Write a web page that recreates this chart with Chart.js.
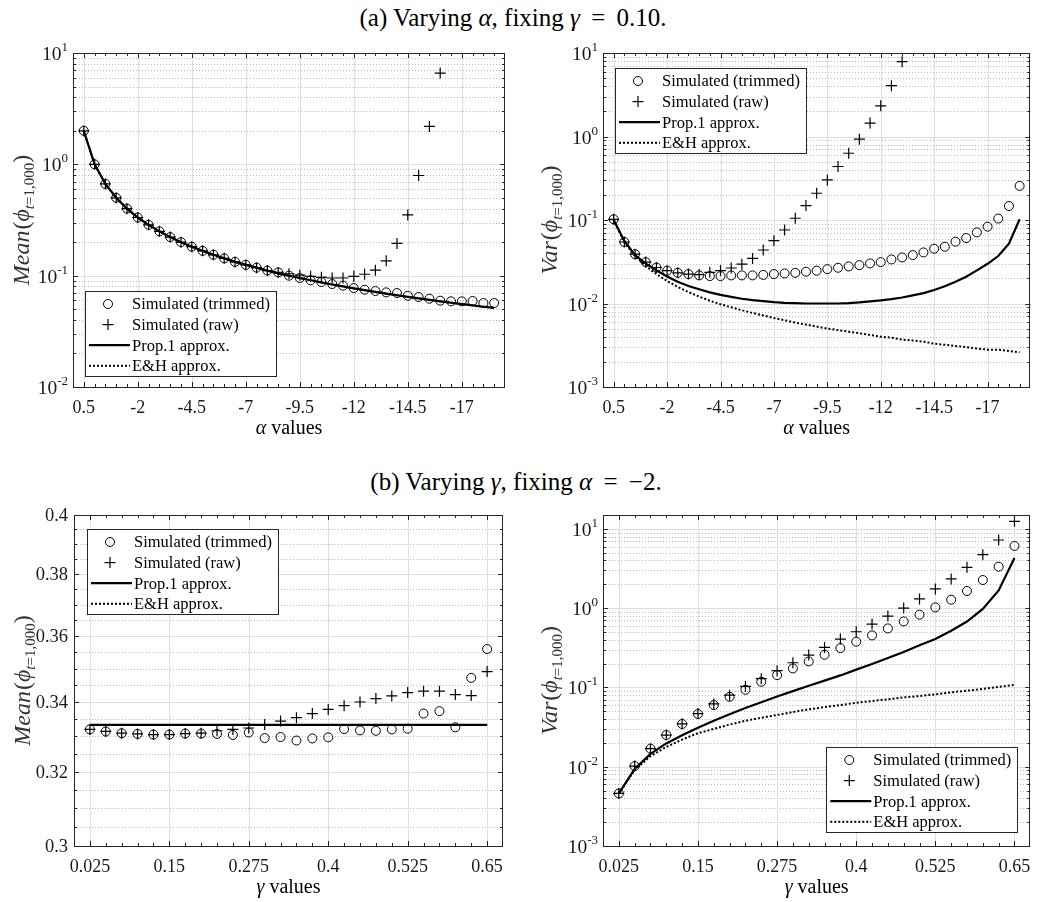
<!DOCTYPE html>
<html>
<head>
<meta charset="utf-8">
<script src="https://cdn.jsdelivr.net/npm/chart.js@4.4.1/dist/chart.umd.min.js"></script>
<style>
  body { margin: 0; background: #fff; width: 1037px; height: 902px; position: relative; overflow: hidden;
         font-family: "Liberation Serif", "Times New Roman", serif; color: #000; }
  .caption { position: absolute; text-align: center; font-size: 25px; line-height: 28px; white-space: nowrap; }
  canvas { position: absolute; }
</style>
</head>
<body>
<div class="caption" style="left:0; width:1026px; top:4px">(a) Varying <i>α</i>, fixing <i>γ</i>&thinsp; = &thinsp;0.10.</div>
<div class="caption" style="left:0; width:1032px; top:468px">(b) Varying <i>γ</i>, fixing <i>α</i>&thinsp; = &thinsp;−2.</div>
<canvas id="meanAlpha"></canvas>
<canvas id="varAlpha"></canvas>
<canvas id="meanGamma"></canvas>
<canvas id="varGamma"></canvas>
<script>
// ---- data ----
const seriesLabels = ['Simulated (trimmed)', 'Simulated (raw)', 'Prop.1 approx.', 'E&H approx.'];

const alphaValues = [0.5, 0, -0.5, -1, -1.5, -2, -2.5, -3, -3.5, -4, -4.5, -5, -5.5, -6, -6.5, -7, -7.5, -8,
  -8.5, -9, -9.5, -10, -10.5, -11, -11.5, -12, -12.5, -13, -13.5, -14, -14.5, -15, -15.5, -16, -16.5, -17,
  -17.5, -18, -18.5];
const alphaTicks = [0.5, -2, -4.5, -7, -9.5, -12, -14.5, -17];

const gammaValues = [0.025, 0.05, 0.075, 0.1, 0.125, 0.15, 0.175, 0.2, 0.225, 0.25, 0.275, 0.3, 0.325, 0.35,
  0.375, 0.4, 0.425, 0.45, 0.475, 0.5, 0.525, 0.55, 0.575, 0.6, 0.625, 0.65];
const gammaTicks = [0.025, 0.15, 0.275, 0.4, 0.525, 0.65];

// mean, varying alpha
const meanAlphaTrimmed = [2.00, 1.00, 0.667, 0.500, 0.400, 0.333, 0.286, 0.250, 0.222, 0.200, 0.182, 0.167,
  0.154, 0.143, 0.133, 0.125, 0.118, 0.111, 0.107, 0.100, 0.0953, 0.0908, 0.0877, 0.0841, 0.0813, 0.0774,
  0.0748, 0.0728, 0.0708, 0.0698, 0.0660, 0.0643, 0.0621, 0.0596, 0.0588, 0.0588, 0.0592, 0.0568, 0.0568];
const meanAlphaRaw = [2.00, 1.00, 0.667, 0.500, 0.400, 0.333, 0.286, 0.250, 0.222, 0.200, 0.182, 0.167,
  0.154, 0.143, 0.133, 0.125, 0.118, 0.111, 0.107, 0.104, 0.101, 0.0986, 0.0966, 0.0953, 0.0953, 0.0986,
  0.103, 0.112, 0.136, 0.195, 0.351, 0.794, 2.19, 6.60, null, null, null, null, null];
const meanAlphaProp1 = [2.000, 1.000, 0.667, 0.500, 0.400, 0.333, 0.286, 0.250, 0.222, 0.200, 0.182, 0.167,
  0.154, 0.143, 0.133, 0.125, 0.118, 0.111, 0.105, 0.100, 0.0952, 0.0909, 0.0870, 0.0833, 0.0800, 0.0769,
  0.0741, 0.0714, 0.0690, 0.0667, 0.0645, 0.0625, 0.0606, 0.0588, 0.0571, 0.0556, 0.0541, 0.0526, 0.0513];
const meanAlphaEH = [2.000, 1.000, 0.667, 0.500, 0.400, 0.333, 0.286, 0.250, 0.222, 0.200, 0.182, 0.167,
  0.154, 0.143, 0.133, 0.125, 0.118, 0.111, 0.105, 0.100, 0.0952, 0.0909, 0.0870, 0.0833, 0.0800, 0.0769,
  0.0741, 0.0714, 0.0690, 0.0667, 0.0645, 0.0625, 0.0606, 0.0588, 0.0571, 0.0556, 0.0541, 0.0526, 0.0513];

// variance, varying alpha
const varAlphaTrimmed = [0.102, 0.0545, 0.0390, 0.0313, 0.0270, 0.0247, 0.0233, 0.0225, 0.0217, 0.0213,
  0.0213, 0.0217, 0.0217, 0.0217, 0.0220, 0.0225, 0.0229, 0.0233, 0.0240, 0.0247, 0.0258, 0.0268, 0.0278,
  0.0288, 0.0302, 0.0313, 0.0337, 0.0356, 0.0380, 0.0409, 0.0453, 0.0479, 0.0550, 0.0608, 0.0711, 0.0832,
  0.104, 0.147, 0.256];
const varAlphaRaw = [0.102, 0.0545, 0.0390, 0.0313, 0.0270, 0.0247, 0.0233, 0.0225, 0.0222, 0.0236, 0.0247,
  0.0266, 0.0296, 0.0347, 0.0437, 0.0565, 0.0759, 0.105, 0.149, 0.209, 0.302, 0.437, 0.630, 0.930, 1.45,
  2.33, 4.06, 7.87, null, null, null, null, null, null, null, null, null, null, null];
const varAlphaProp1 = [0.100, 0.0560, 0.0380, 0.0300, 0.0250, 0.0210, 0.0182, 0.0162, 0.0148, 0.0136,
  0.0127, 0.0120, 0.0114, 0.0110, 0.0107, 0.0104, 0.0102, 0.0101, 0.0100, 0.0100, 0.0100, 0.0100, 0.0101,
  0.0103, 0.0106, 0.0109, 0.0113, 0.0118, 0.0125, 0.0133, 0.0145, 0.0161, 0.0182, 0.0209, 0.0249, 0.0299,
  0.0370, 0.0520, 0.102];
const varAlphaEH = [0.100, 0.0540, 0.0370, 0.0280, 0.0225, 0.0186, 0.0158, 0.0137, 0.0121, 0.0108, 0.0098,
  0.0090, 0.0083, 0.0077, 0.0072, 0.0067, 0.0063, 0.0059, 0.0056, 0.0053, 0.0050, 0.0048, 0.0046, 0.0044,
  0.0042, 0.0040, 0.0039, 0.0037, 0.0036, 0.0035, 0.0033, 0.0032, 0.0031, 0.0030, 0.0029, 0.0028, 0.0028,
  0.0027, 0.0026];

// mean, varying gamma
const meanGammaTrimmed = [0.3320, 0.3314, 0.3309, 0.3307, 0.3305, 0.3305, 0.3308, 0.3308, 0.3307, 0.3304,
  0.3311, 0.3295, 0.3298, 0.3288, 0.3294, 0.3297, 0.3321, 0.3317, 0.3316, 0.3320, 0.3322, 0.3366, 0.3373,
  0.3326, 0.3472, 0.3560];
const meanGammaRaw = [0.3320, 0.3314, 0.3309, 0.3307, 0.3305, 0.3305, 0.3308, 0.3309, 0.3316, 0.3320,
  0.3324, 0.3334, 0.3344, 0.3354, 0.3366, 0.3378, 0.3389, 0.3400, 0.3410, 0.3418, 0.3428, 0.3432, 0.3432,
  0.3422, 0.3419, 0.3491];
const meanGammaProp1 = [0.3333, 0.3333, 0.3333, 0.3333, 0.3333, 0.3333, 0.3333, 0.3333, 0.3333, 0.3333,
  0.3333, 0.3333, 0.3333, 0.3333, 0.3333, 0.3333, 0.3333, 0.3333, 0.3333, 0.3333, 0.3333, 0.3333, 0.3333,
  0.3333, 0.3333, 0.3333];
const meanGammaEH = [0.3333, 0.3333, 0.3333, 0.3333, 0.3333, 0.3333, 0.3333, 0.3333, 0.3333, 0.3333,
  0.3333, 0.3333, 0.3333, 0.3333, 0.3333, 0.3333, 0.3333, 0.3333, 0.3333, 0.3333, 0.3333, 0.3333, 0.3333,
  0.3333, 0.3333, 0.3333];
const meanGammaTicks = [0.3, 0.32, 0.34, 0.36, 0.38, 0.4];

// variance, varying gamma
const varGammaTrimmed = [0.0046, 0.0102, 0.0169, 0.0251, 0.0346, 0.0463, 0.0600, 0.0762, 0.0935, 0.118,
  0.143, 0.174, 0.213, 0.259, 0.314, 0.378, 0.454, 0.556, 0.682, 0.829, 1.025, 1.28, 1.65, 2.27, 3.34, 6.10];
const varGammaRaw = [0.0046, 0.0102, 0.0169, 0.0251, 0.0348, 0.0468, 0.0620, 0.0800, 0.103, 0.129, 0.163,
  0.205, 0.256, 0.320, 0.408, 0.505, 0.631, 0.797, 1.005, 1.31, 1.75, 2.34, 3.28, 4.74, 7.26, 12.5];
const varGammaProp1 = [0.0046, 0.0094, 0.0145, 0.0197, 0.0250, 0.0310, 0.0380, 0.0460, 0.0550, 0.0650,
  0.0770, 0.0900, 0.105, 0.122, 0.142, 0.168, 0.198, 0.235, 0.280, 0.340, 0.410, 0.520, 0.680, 0.980, 1.68,
  4.30];
const varGammaEH = [0.0046, 0.0091, 0.0136, 0.0178, 0.0220, 0.0265, 0.0300, 0.0340, 0.0380, 0.0415, 0.0450,
  0.0490, 0.0530, 0.0565, 0.0600, 0.0640, 0.0675, 0.0710, 0.0750, 0.0780, 0.0820, 0.0870, 0.0910, 0.0960,
  0.102, 0.108];

// ---- look ----
const serif = '"Liberation Serif", "Times New Roman", serif';
const ink = '#262626';

const seriesStyles = [
  { showLine: false, pointStyle: 'circle', pointRadius: 4.5, pointBorderWidth: 1,
    pointBorderColor: '#000', pointBackgroundColor: 'rgba(0,0,0,0)', borderColor: '#000', order: 3 },
  { showLine: false, pointStyle: 'cross', pointRadius: 5.5, pointBorderWidth: 1.2,
    pointBorderColor: '#000', pointBackgroundColor: 'rgba(0,0,0,0)', borderColor: '#000', order: 2 },
  { pointRadius: 0, borderWidth: 2.2, borderColor: '#000', tension: 0, order: 0 },
  { pointRadius: 0, borderWidth: 2, borderColor: '#000', borderDash: [2, 2], tension: 0, order: 1 }
];

// canvas rectangle and plot box (left, top, right, bottom) of each panel, in page pixels
const panelLayout = {
  meanAlpha: { left: 0, top: 40, width: 518, height: 412, area: [73, 53, 505, 387] },
  varAlpha: { left: 518, top: 40, width: 519, height: 412, area: [603, 53, 1034, 387] },
  meanGamma: { left: 0, top: 500, width: 518, height: 402, area: [74, 515, 503, 846] },
  varGamma: { left: 518, top: 500, width: 519, height: 402, area: [603, 515, 1033, 846] }
};

function logMinor(min, max) {
  const out = [];
  for (let e = Math.floor(Math.log10(min)); e <= Math.ceil(Math.log10(max)); e++) {
    for (let m = 2; m <= 9; m++) {
      const v = m * Math.pow(10, e);
      if (v > min && v < max) out.push(v);
    }
  }
  return out;
}

const meanGammaMinor = [];
for (let i = 1; i < 20; i++) if (i % 4) meanGammaMinor.push(0.3 + 0.005 * i);

const panelSettings = {
  meanAlpha: { xMinor: alphaValues, yMinor: logMinor(0.01, 10), yFormat: 'pow', xName: 'α', yName: 'Mean',
    titleOffset: 44, legend: { corner: 'bl', dx: 12, dy: 11 } },
  varAlpha: { xMinor: alphaValues, yMinor: logMinor(0.001, 10), yFormat: 'pow', xName: 'α', yName: 'Var',
    titleOffset: 46.5, legend: { corner: 'tl', dx: 12, dy: 15 } },
  meanGamma: { xMinor: gammaValues, yMinor: meanGammaMinor, yFormat: 'plain', xName: 'γ', yName: 'Mean',
    titleOffset: 44, legend: { corner: 'tl', dx: 13, dy: 14 } },
  varGamma: { xMinor: gammaValues, yMinor: logMinor(0.001, 15), yFormat: 'pow', xName: 'γ', yName: 'Var',
    titleOffset: 46.5, legend: { corner: 'br', dx: 13, dy: 14 } }
};

const snap = v => Math.round(v) + 0.5;
function hline(ctx, x1, x2, y) { ctx.beginPath(); ctx.moveTo(x1, y); ctx.lineTo(x2, y); ctx.stroke(); }
function vline(ctx, x, y1, y2) { ctx.beginPath(); ctx.moveTo(x, y1); ctx.lineTo(x, y2); ctx.stroke(); }

// draws runs of differently styled text on one baseline
function textRuns(ctx, runs, x, y, align) {
  let total = 0;
  runs.forEach(r => {
    ctx.font = (r.italic ? 'italic ' : '') + r.size + 'px ' + serif;
    r.w = ctx.measureText(r.text).width + (r.gap || 0);
    total += r.w;
  });
  let cx = align === 'right' ? x - total : align === 'center' ? x - total / 2 : x;
  runs.forEach(r => {
    ctx.font = (r.italic ? 'italic ' : '') + r.size + 'px ' + serif;
    ctx.fillText(r.text, cx, y + (r.dy || 0));
    cx += r.w;
  });
}

function drawLegend(chart, cfg) {
  const { ctx, chartArea: a } = chart;
  const w = 191, h = 85, rowH = 20.6;
  const left = cfg.corner === 'br' ? a.right - cfg.dx - w : a.left + cfg.dx;
  const top = cfg.corner === 'tl' ? a.top + cfg.dy : a.bottom - cfg.dy - h;
  ctx.save();
  ctx.fillStyle = '#fff';
  ctx.fillRect(left, top, w, h);
  ctx.strokeStyle = ink;
  ctx.lineWidth = 1;
  ctx.strokeRect(Math.round(left) + 0.5, Math.round(top) + 0.5, w, h);
  ctx.fillStyle = '#000';
  ctx.strokeStyle = '#000';
  ctx.textAlign = 'left';
  ctx.textBaseline = 'middle';
  ctx.font = '16.5px ' + serif;
  chart.data.datasets.forEach((ds, i) => {
    const cy = top + 13 + i * rowH;
    const mx = left + 23;
    ctx.setLineDash([]);
    if (ds.pointStyle === 'circle') {
      ctx.lineWidth = 1;
      ctx.beginPath(); ctx.arc(mx, cy, 4.5, 0, Math.PI * 2); ctx.stroke();
    } else if (ds.pointStyle === 'cross') {
      ctx.lineWidth = 1.2;
      hline(ctx, mx - 5.5, mx + 5.5, cy); vline(ctx, mx, cy - 5.5, cy + 5.5);
    } else {
      ctx.lineWidth = ds.borderWidth;
      ctx.setLineDash(ds.borderDash || []);
      hline(ctx, left + 4, left + 45, cy);
    }
    ctx.setLineDash([]);
    ctx.fillText(ds.label, left + 47, cy + 1);
  });
  ctx.restore();
}

// grid, boxed axes with inward ticks, tick labels, axis titles and legend
const matlabAxes = {
  id: 'matlabAxes',
  beforeDatasetsDraw(chart) {
    const s = panelSettings[chart.canvas.id];
    const { ctx, chartArea: a, scales: { x, y } } = chart;
    ctx.save();
    ctx.beginPath();
    ctx.rect(a.left, a.top, a.right - a.left, a.bottom - a.top);
    ctx.clip();
    ctx.lineWidth = 1;
    ctx.strokeStyle = 'rgba(38,38,38,0.32)';
    ctx.setLineDash([1, 2]);
    s.yMinor.forEach(v => hline(ctx, a.left, a.right, snap(y.getPixelForValue(v))));
    ctx.setLineDash([]);
    ctx.strokeStyle = '#dedede';
    x.ticks.forEach(t => vline(ctx, snap(x.getPixelForValue(t.value)), a.top, a.bottom));
    y.ticks.forEach(t => hline(ctx, a.left, a.right, snap(y.getPixelForValue(t.value))));
    ctx.restore();
  },
  afterDatasetsDraw(chart) {
    const s = panelSettings[chart.canvas.id];
    const { ctx, chartArea: a, scales: { x, y } } = chart;
    ctx.save();
    ctx.strokeStyle = ink;
    ctx.lineWidth = 1;
    s.xMinor.forEach(v => {
      const px = snap(x.getPixelForValue(v));
      vline(ctx, px, a.bottom, a.bottom - 3); vline(ctx, px, a.top, a.top + 3);
    });
    x.ticks.forEach(t => {
      const px = snap(x.getPixelForValue(t.value));
      vline(ctx, px, a.bottom, a.bottom - 5); vline(ctx, px, a.top, a.top + 5);
    });
    s.yMinor.forEach(v => {
      const py = snap(y.getPixelForValue(v));
      hline(ctx, a.left, a.left + 3, py); hline(ctx, a.right, a.right - 3, py);
    });
    y.ticks.forEach(t => {
      const py = snap(y.getPixelForValue(t.value));
      hline(ctx, a.left, a.left + 5, py); hline(ctx, a.right, a.right - 5, py);
    });
    ctx.strokeRect(snap(a.left), snap(a.top), Math.round(a.right - a.left) - 1, Math.round(a.bottom - a.top));

    // tick labels
    ctx.fillStyle = '#1a1a1a';
    ctx.textBaseline = 'alphabetic';
    x.ticks.forEach(t => {
      textRuns(ctx, [{ text: String(t.value), size: 18 }], x.getPixelForValue(t.value), a.bottom + 26, 'center');
    });
    y.ticks.forEach(t => {
      const py = y.getPixelForValue(t.value);
      if (s.yFormat === 'pow') {
        const e = Math.round(Math.log10(t.value));
        textRuns(ctx, [{ text: '10', size: 19.5 }, { text: String(e), size: 13, dy: -9 }], a.left - 5, py + 7, 'right');
      } else {
        textRuns(ctx, [{ text: String(t.value), size: 18.5 }], a.left - 6, py + 6, 'right');
      }
    });

    // axis titles
    ctx.fillStyle = '#000';
    textRuns(ctx, [{ text: s.xName, size: 20, italic: true }, { text: ' values', size: 20 }],
      (a.left + a.right) / 2, a.bottom + 47, 'center');
    ctx.save();
    ctx.translate(a.left - s.titleOffset, (a.top + a.bottom) / 2);
    ctx.rotate(-Math.PI / 2);
    ctx.fillStyle = '#333';
    textRuns(ctx, [
      { text: s.yName, size: 24, italic: true, gap: 1 }, { text: '(', size: 24 }, { text: 'ϕ', size: 24, italic: true },
      { text: 't', size: 15, italic: true, dy: 5 }, { text: '=1,000', size: 15, dy: 5 }, { text: ')', size: 24 }
    ], 0, 0, 'center');
    ctx.restore();
    ctx.restore();

    drawLegend(chart, s.legend);
  }
};

function makeChart(id, xValues, seriesList, xScale, yScale) {
  const L = panelLayout[id];
  const [aL, aT, aR, aB] = L.area;
  const canvas = document.getElementById(id);
  canvas.width = L.width;
  canvas.height = L.height;
  canvas.style.left = L.left + 'px';
  canvas.style.top = L.top + 'px';
  return new Chart(canvas, {
    type: 'line',
    data: {
      datasets: seriesList.map((vals, i) => Object.assign({
        label: seriesLabels[i],
        data: xValues.map((xv, j) => ({ x: xv, y: vals[j] }))
      }, seriesStyles[i]))
    },
    options: {
      responsive: false,
      animation: false,
      devicePixelRatio: 1,
      events: [],
      layout: { padding: { left: 0, top: aT - L.top, right: L.left + L.width - aR, bottom: 0 } },
      plugins: { legend: { display: false }, tooltip: { enabled: false } },
      scales: {
        x: Object.assign({
          type: 'linear',
          ticks: { display: false }, grid: { display: false }, border: { display: false },
          afterFit: sc => { sc.height = L.top + L.height - aB; }
        }, xScale),
        y: Object.assign({
          type: 'logarithmic',
          ticks: { display: false }, grid: { display: false }, border: { display: false },
          afterFit: sc => { sc.width = aL - L.left; }
        }, yScale)
      }
    },
    plugins: [matlabAxes]
  });
}

const alphaAxis = { min: -19, max: 1, reverse: true,
  afterBuildTicks: sc => { sc.ticks = alphaTicks.map(v => ({ value: v })); } };
const gammaAxis = { min: 0, max: 0.675,
  afterBuildTicks: sc => { sc.ticks = gammaTicks.map(v => ({ value: v })); } };
const decadeTicks = list => sc => { sc.ticks = list.map(v => ({ value: v })); };

makeChart('meanAlpha', alphaValues, [meanAlphaTrimmed, meanAlphaRaw, meanAlphaProp1, meanAlphaEH], alphaAxis,
  { min: 0.01, max: 10, afterBuildTicks: decadeTicks([0.01, 0.1, 1, 10]) });
makeChart('varAlpha', alphaValues, [varAlphaTrimmed, varAlphaRaw, varAlphaProp1, varAlphaEH], alphaAxis,
  { min: 0.001, max: 10, afterBuildTicks: decadeTicks([0.001, 0.01, 0.1, 1, 10]) });
makeChart('meanGamma', gammaValues, [meanGammaTrimmed, meanGammaRaw, meanGammaProp1, meanGammaEH], gammaAxis,
  { min: 0.3, max: 0.4, afterBuildTicks: decadeTicks(meanGammaTicks) });
makeChart('varGamma', gammaValues, [varGammaTrimmed, varGammaRaw, varGammaProp1, varGammaEH], gammaAxis,
  { min: 0.001, max: 15, afterBuildTicks: decadeTicks([0.001, 0.01, 0.1, 1, 10]) });
</script>
</body>
</html>
